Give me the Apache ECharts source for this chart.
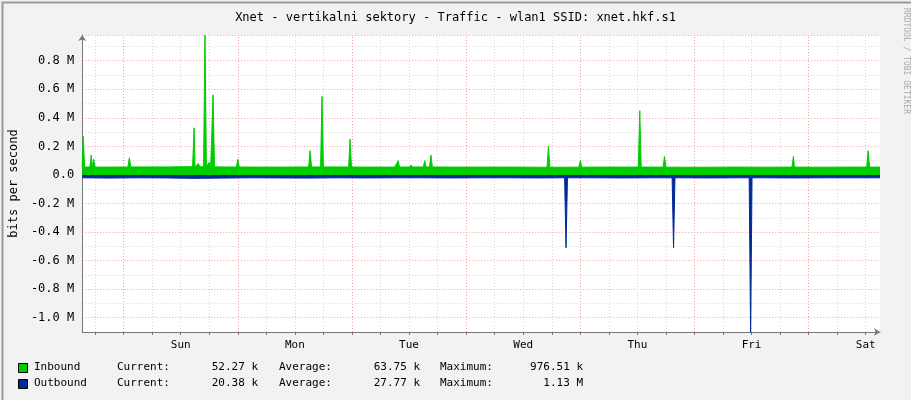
<!DOCTYPE html>
<html><head><meta charset="utf-8">
<script src="https://cdn.jsdelivr.net/npm/echarts@6/dist/echarts.min.js"></script>
<style>html,body{margin:0;background:#f2f2f2}#c{width:911px;height:400px}</style>
</head><body><div id="c"></div>
<script>
// hours relative to Sunday 00:00
const dayLabels = ['Sun','Mon','Tue','Wed','Thu','Fri','Sat'];
const dayNoons = [12,36,60,84,108,132,156];
const midnights = [0,24,48,72,96,120,144];
const inBaseHours = [-8.7,-3,3,9,15,21,27,33,39,45,51,57,63,69,75,81,87,93,99,105,111,117,123,129,135,141,147,153,159];
const inBaseVals  = [0.055,0.055,0.056,0.056,0.058,0.056,0.055,0.055,0.056,0.056,0.055,0.055,0.056,0.055,0.055,0.055,0.054,0.054,0.055,0.055,0.055,0.054,0.054,0.055,0.054,0.055,0.054,0.055,0.055];
const inSpikeHours = [-8.5,-6.8,-6.3,1.2,10,14.8,15.7,17.1,18,18.8,24,39.2,41.7,47.6,57.7,60.4,63.3,64.6,89.3,96,108.5,113.7,140.8,156.5];
const inSpikeVals  = [0.27,0.14,0.11,0.12,0.07,0.33,0.08,0.98,0.09,0.56,0.11,0.17,0.55,0.25,0.10,0.07,0.10,0.14,0.20,0.10,0.45,0.13,0.13,0.17];
const outBaseHours = [-8.7,-3,3,9,15,21,27,33,39,45,51,57,63,69,75,81,87,93,99,105,111,117,123,129,135,141,147,153,159];
const outBaseVals  = [-0.02,-0.022,-0.02,-0.021,-0.024,-0.022,-0.02,-0.021,-0.022,-0.02,-0.021,-0.02,-0.02,-0.021,-0.02,-0.02,-0.021,-0.02,-0.02,-0.021,-0.02,-0.02,-0.021,-0.02,-0.02,-0.021,-0.02,-0.02,-0.02];
const outSpikeHours = [93.0,115.6,131.8];
const outSpikeVals  = [-0.51,-0.51,-1.13];

function build(bh,bv,sh,sv){
  const base = h => { let i=0; while(i<bh.length-2 && bh[i+1]<h) i++; const t=(h-bh[i])/(bh[i+1]-bh[i]); return bv[i]+(bv[i+1]-bv[i])*Math.min(1,Math.max(0,t)); };
  let pts = bh.map((h,i)=>[h,bv[i]]);
  sh.forEach((h,i)=>{ pts.push([Math.max(-8.7,h-0.3),base(h-0.3)],[h,sv[i]],[h+0.3,base(h+0.3)]); });
  pts.sort((a,b)=>a[0]-b[0]);
  return pts;
}
const sixH = []; for(let h=-6;h<=156;h+=6) sixH.push(h);
const mono = 'DejaVu Sans Mono';
const chart = echarts.init(document.getElementById('c'));
const vlines = sixH.map(h=>({xAxis:h, lineStyle:{color: midnights.includes(h)?'#f3a0a0':'#d8d8d8', type:[1,2], width:1}}));
const F = '11px '+mono;
const leg = (y,name,color,cur,avg,max)=>[
  {type:'rect',left:18,top:y-5,shape:{width:9,height:9},style:{fill:color,stroke:'#000',lineWidth:1}},
  {type:'text',left:34,top:y-6,style:{text:name,font:F,fill:'#000'}},
  {type:'text',left:117,top:y-6,style:{text:'Current:',font:F,fill:'#000'}},
  {type:'text',right:911-258,top:y-6,style:{text:cur,font:F,fill:'#000'}},
  {type:'text',left:279,top:y-6,style:{text:'Average:',font:F,fill:'#000'}},
  {type:'text',right:911-420,top:y-6,style:{text:avg,font:F,fill:'#000'}},
  {type:'text',left:440,top:y-6,style:{text:'Maximum:',font:F,fill:'#000'}},
  {type:'text',right:911-583,top:y-6,style:{text:max,font:F,fill:'#000'}}
];
chart.setOption({
  animation:false,
  backgroundColor:'#f2f2f2',
  title:{text:'Xnet - vertikalni sektory - Traffic - wlan1 SSID: xnet.hkf.s1',left:'center',top:7,textStyle:{fontFamily:mono,fontSize:12,fontWeight:'normal',color:'#000'}},
  grid:{left:81,right:31,top:35,bottom:68,show:true,backgroundColor:'#fff',borderWidth:0},
  xAxis:{type:'value',min:-8.7,max:159,
    axisLine:{onZero:false,lineStyle:{color:'#777'},symbol:['none','arrow'],symbolSize:[6,6]},
    axisTick:{customValues:sixH,length:3,inside:false,lineStyle:{color:'#777'}},
    axisLabel:{customValues:dayNoons,formatter:v=>dayLabels[dayNoons.indexOf(v)],fontFamily:mono,fontSize:11,color:'#000',margin:8},
    splitLine:{show:false}},
  yAxis:{type:'value',min:-1.1,max:0.98,interval:0.1,
    name:'bits per second',nameLocation:'middle',nameGap:62,nameTextStyle:{fontFamily:mono,fontSize:12,color:'#000'},
    axisLine:{show:true,onZero:false,lineStyle:{color:'#777'},symbol:['none','arrow'],symbolSize:[6,6]},
    axisTick:{show:false},
    axisLabel:{fontFamily:mono,fontSize:12,color:'#000',margin:8,formatter:v=>{const r=Math.round(v*10);if(r%2!==0||v>0.95||v<-1.05)return '';return r===0?'0.0':(r/10).toFixed(1)+' M';}},
    splitLine:{show:true,lineStyle:{color:['#d8d8d8','#f3a0a0'],type:[1,2]}}},
  series:[
    {type:'line',data:build(inBaseHours,inBaseVals,inSpikeHours,inSpikeVals),showSymbol:false,lineStyle:{color:'#00cc00',width:1},areaStyle:{color:'#00cc00',opacity:1},z:3,clip:true,
     markLine:{silent:true,symbol:'none',label:{show:false},data:vlines,z:1}},
    {type:'line',data:build(outBaseHours,outBaseVals,outSpikeHours,outSpikeVals),showSymbol:false,lineStyle:{color:'#002a97',width:1},areaStyle:{color:'#002a97',opacity:1},z:4,clip:true}
  ],
  graphic:[
    {type:'text',left:902,top:8,rotation:-Math.PI/2,originX:0,originY:0,style:{text:'RRDTOOL / TOBI OETIKER',font:'8px '+mono,fill:'#aaa'}},
    ...leg(368,'Inbound','#00cc00','52.27 k','63.75 k','976.51 k'),
    ...leg(384,'Outbound','#002a97','20.38 k','27.77 k','1.13 M'),
    {type:'rect',left:0,top:0,shape:{width:911,height:400},style:{fill:'none',stroke:'#999',lineWidth:2},silent:true}
  ]
});
</script></body></html>
